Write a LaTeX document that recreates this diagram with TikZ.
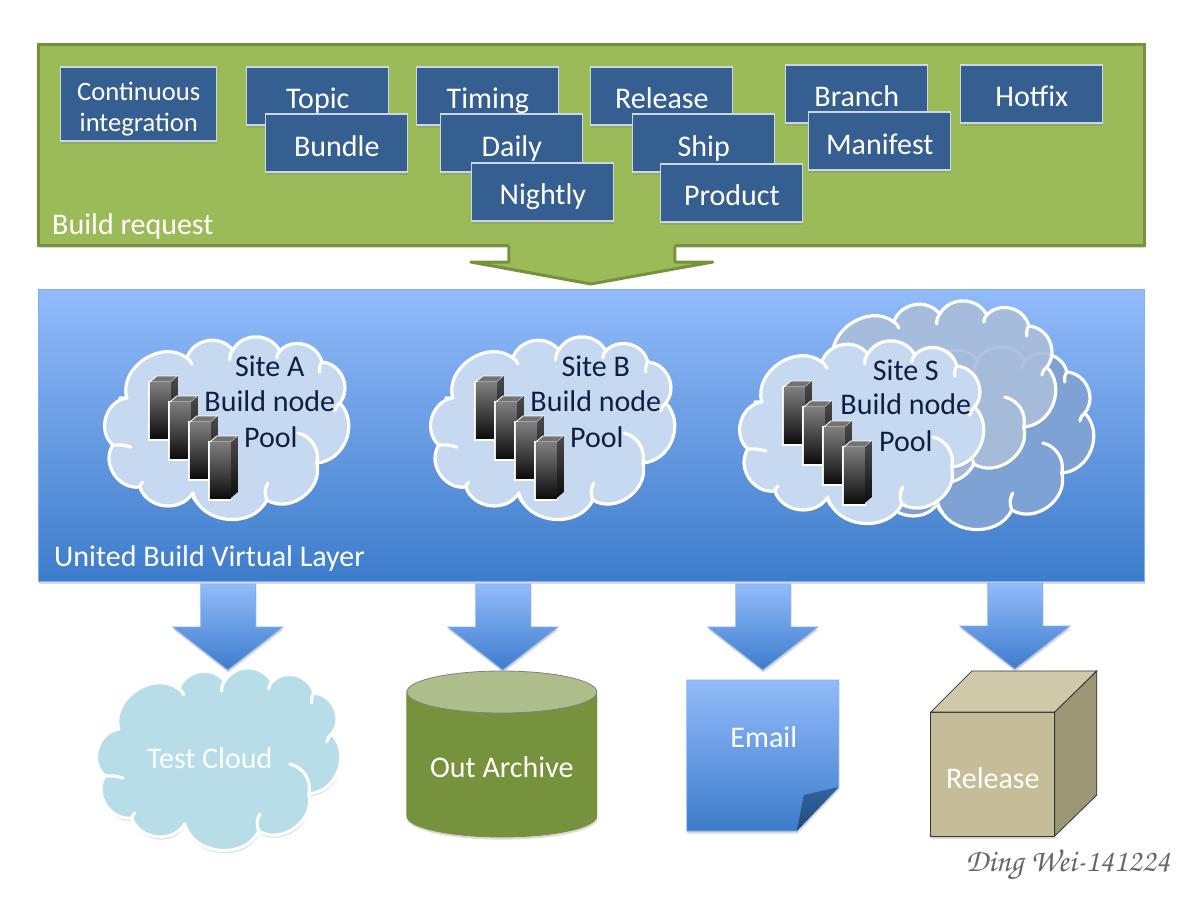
\documentclass[tikz,border=0pt]{standalone}
\usepackage{fontspec}
\setmainfont{Carlito}
\usetikzlibrary{shadows}
\definecolor{panelgreen}{HTML}{9BBB59}
\definecolor{edgegreen}{HTML}{76923C}
\definecolor{boxblue}{HTML}{365F91}
\definecolor{blueup}{HTML}{92BBFA}
\definecolor{bluedown}{HTML}{3D7CCB}
\definecolor{inknavy}{HTML}{0F1F3F}
\definecolor{cloudblue}{HTML}{C6D9F1}
\definecolor{cloudgrey}{HTML}{ABC0DE}
\definecolor{clouddeep}{HTML}{7FA2D4}
\definecolor{cloudcyan}{HTML}{B7DDE8}
\definecolor{cubefront}{HTML}{C4BD97}
\definecolor{cubetop}{HTML}{CFC9A9}
\definecolor{cubeside}{HTML}{9C9674}
\tikzset{
  softshadow/.style={drop shadow={shadow xshift=0.3pt,shadow yshift=-1.3pt,opacity=.3}},
  kindbox/.style={rectangle,draw=white!75!boxblue,line width=.6pt,fill=boxblue,text=white,
    font=\fontsize{15}{17}\selectfont,minimum width=71pt,minimum height=29pt,inner sep=0pt,
    text depth=0pt,softshadow},
  bluefill/.style={top color=blueup,bottom color=bluedown,draw=blueup!80!bluedown,softshadow},
  whitelabel/.style={text=white,font=\fontsize{15}{17}\selectfont,inner sep=0pt},
  poollabel/.style={text=inknavy,font=\fontsize{15}{17}\selectfont,inner sep=0pt},
  puff/.style={bend left=#1,looseness=1.12},
  pics/bumpcloud/.style={code={
    \draw[line width=1.6pt,draw=white,fill=#1,line join=round,softshadow]
      (-100,-32) to[puff=72] (-40,-72) to[puff=62] (6,-80) to[puff=62] (53,-79)
      to[puff=62] (95,-68) to[puff=62] (113,-27) to[puff=65] (90,33)
      to[puff=68] (40,70) to[puff=70] (-34,63) to[puff=65] (-87,57)
      to[puff=65] (-114,15) to[puff=65] (-100,-32) -- cycle;
    %%% small curls where the puffs meet
    \draw[line width=1.6pt,draw=white,line cap=round]
      (-40,-72) to[bend left=20] (-35,-66)  (6,-80) to[bend right=20] (3,-70)
      (53,-79) to[bend right=20] (50,-72)  (95,-68) to[bend right=20] (93,-58)
      (113,-27) to[bend right=20] (108,-19)  (90,33) to[bend right=45] (71,3)
      (40,70) to[bend left=25] (41,53)  (-34,63) to[bend right=25] (-29,73)
      (-87,57) to[bend left=20] (-84,52)  (-114,15) to[bend left=10] (-96,17)
      (-100,-32) to[bend left=10] (-107,-32);
  }},
  pics/buildserver/.style={code={
    \fill[white] (-2,-1) rectangle (22,59);
    \draw[white,fill=black!55] (0,0) -- (7,-6) -- (28,-6) -- (21,0) -- cycle;
    \shade[top color=black!70,bottom color=black!95] (21,0) -- (28,-6) -- (28,50) -- (21,56) -- cycle;
    \shade[top color=black!50,bottom color=black!95] (0,0) rectangle (21,56);
  }},
}
\begin{document}
\begin{tikzpicture}[x=0.5pt,y=-0.5pt]
  \useasboundingbox (0.2,0) rectangle (1200.2,900);
  %%% request panel and its arrow
  \path[fill=panelgreen,draw=edgegreen,line width=1.5pt,softshadow] (39,44) rectangle (1145,245);
  \node[whitelabel,anchor=west] (requestlabel) at (52,226) {Build request};
  \node[kindbox,minimum height=37pt,minimum width=78pt] (continuous) at (139,104) {};
  \node[text=white,inner sep=0pt,align=center,font=\fontsize{13.3}{15.5}\selectfont] (continuoustext)
    at (139,109) {Continuous\\integration};
  \foreach \nm/\txt/\cx/\cy/\rh in {topic/Topic/318/96/12.5, bundle/Bundle/337/143/13, timing/Timing/488/96/12.5,
      daily/Daily/512/143/13, nightly/Nightly/543/192/12, release/Release/662/96/12.5, ship/Ship/704/143/13,
      product/Product/732/193/12.5, branch/Branch/857/94/12, manifest/Manifest/880/141/13, hotfix/Hotfix/1032/94/12.5}{
    \node[kindbox,text height=\rh pt] (\nm) at (\cx,\cy) {\txt};
  }
  \fill[panelgreen] (509,243) rectangle (675,248);
  \path[fill=panelgreen,draw=edgegreen,line width=1.5pt,line join=round]
    (509,246) -- (509,262) -- (471,262) -- (591,284) -- (713,262) -- (675,262) -- (675,246);
  %%% virtual layer
  \path[bluefill] (39,289) rectangle (1145,581);
  \node[whitelabel,anchor=west] (layerlabel) at (54,558) {United Build Virtual Layer};
  \pic at (972,440) {bumpcloud=clouddeep};
  \pic[fill opacity=.88] at (934,394) {bumpcloud=cloudgrey};
  \pic at (227,430) {bumpcloud=cloudblue};
  \pic at (553,430) {bumpcloud=cloudblue};
  \pic at (862,434) {bumpcloud=cloudblue};
  %%% servers in each pool
  \foreach \sx/\sy in {150/382, 476/382, 784/387}{
    \foreach \i in {0,1,2,3}{
      \pic at (\sx+20*\i,\sy+20*\i) {buildserver};
    }
  }
  \foreach \nm/\ptxt/\tx/\ty in {siteA/Site A/270/366, nodeA/Build node/270/401, poolA/Pool/271/437,
      siteB/Site B/596/366, nodeB/Build node/596/401, poolB/Pool/597/437,
      siteS/Site S/906/370, nodeS/Build node/906/404, poolS/Pool/906/441}{
    \node[poollabel] (\nm) at (\tx,\ty) {\ptxt};
  }
  %%% arrows down to the outputs
  \foreach \ax/\ay in {228/584, 503/584, 763/584, 1015/583}{
    \path[bluefill] (\ax-27,\ay) -- (\ax+28,\ay) -- (\ax+28,\ay+43) -- (\ax+55,\ay+43)
      -- (\ax,\ay+86) -- (\ax-55,\ay+43) -- (\ax-27,\ay+43) -- cycle;
  }
  %%% outputs
  \pic at (219,761) {bumpcloud=cloudcyan};
  \node[whitelabel] (testcloud) at (210,758) {Test Cloud};
  \path[fill=edgegreen,draw=edgegreen,softshadow] (407,692) -- (407,816)
    arc[start angle=180,end angle=0,x radius=95,y radius=21]
    -- (597,692) -- cycle;
  \path[fill=edgegreen!60!white,draw=black!50] (502,692) ellipse[x radius=95,y radius=21];
  \node[whitelabel] (archive) at (502,767) {Out Archive};
  \path[bluefill] (687,680) -- (839,680) -- (839,787) -- (797,831) -- (687,831) -- cycle;
  \shade[top color=bluedown!80!black,bottom color=bluedown!60!black] (839,787) -- (804,795) -- (797,831) -- cycle;
  \node[whitelabel] (email) at (764,737) {Email};
  \path[fill=cubefront,draw=black!80,softshadow] (931,712) rectangle (1055,836);
  \draw[black!80,fill=cubetop] (931,712) -- (972,671) -- (1097,671) -- (1055,712) -- cycle;
  \draw[black!80,fill=cubeside] (1055,712) -- (1097,671) -- (1097,795) -- (1055,836) -- cycle;
  \node[whitelabel] (releasebox) at (993,778) {Release};
  %%% signature
  \node[black!60,inner sep=0pt,font=\usefont{OT1}{pzc}{mb}{it}\fontsize{16}{18}\selectfont] (signature) at (1068,865) {Ding Wei-141224};
\end{tikzpicture}
\end{document}
